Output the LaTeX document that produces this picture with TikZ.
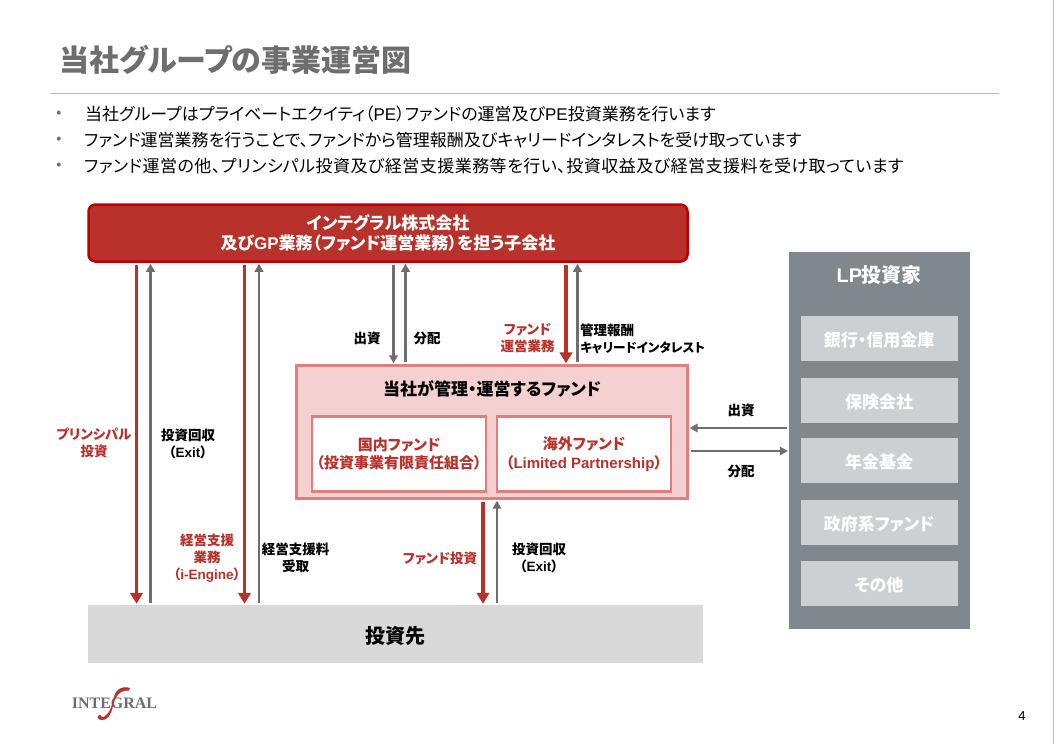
\documentclass[tikz,border=0pt]{standalone}
\usepackage{fontspec}
\setmainfont{Noto Sans CJK JP}[RawFeature=+palt]
\newfontfamily\latinfont{Liberation Sans}
\newfontfamily\logofont{Liberation Serif}
\usetikzlibrary{arrows.meta}
\definecolor{mainred}{HTML}{B9312B}
\definecolor{mainedge}{HTML}{C00000}
\definecolor{fundfill}{HTML}{F4D0D0}
\definecolor{fundedge}{HTML}{E07F7F}
\definecolor{lpgray}{HTML}{81888D}
\definecolor{lpbox}{HTML}{CDD0D3}
\definecolor{linegray}{HTML}{6E6E6E}
\definecolor{rulepink}{HTML}{E8A4A4}
\tikzset{
    box/.style={inner sep=0pt, align=center},
    lpitem/.style={box, fill=lpbox, minimum width=157pt, minimum height=45pt, text height=16pt, text depth=0pt, text=white, font=\fontsize{17}{20}\selectfont\bfseries},
    fundbox/.style={box, fill=white, draw=fundedge, line width=2.4pt, minimum width=174pt, minimum height=75pt, text=mainred, font=\fontsize{15}{18.5}\selectfont\bfseries},
    label/.style={inner sep=0pt, align=center, font=\fontsize{13.5}{17}\selectfont\bfseries},
    redlabel/.style={label, text=mainred},
    redline/.style={draw=mainred, line width=3.2pt, -{Triangle[length=11pt,width=12.5pt]}, shorten >=1pt, shorten <=2pt},
    grayline/.style={draw=linegray, line width=2.4pt, -{Triangle[length=8pt,width=8.5pt]}, shorten >=1pt, shorten <=2pt},
    bullet/.style={inner sep=0pt, anchor=west, font=\fontsize{17}{20}\selectfont},
    dotmark/.style={inner sep=0pt, text=linegray, font=\fontsize{15}{18}\selectfont}
}
\begin{document}
\begin{tikzpicture}[x=1pt, y=-1pt]
\useasboundingbox (0,0) rectangle (1055,744);
\draw[lightgray, line width=1.5pt] (1053.5,0) -- (1053.5,744);

\node[inner sep=0pt, anchor=west, text=linegray, font=\fontsize{30}{34}\selectfont\bfseries] (title) at (59,60) {当社グループの事業運営図};
\draw[rulepink, line width=0.9pt] (50,93.5) -- (999,93.5);

\node[dotmark] (dot1) at (59,114) {•};
\node[dotmark] (dot2) at (59,140) {•};
\node[dotmark] (dot3) at (59,166) {•};
\node[bullet] (line1) at (85,114.5) {当社グループはプライベートエクイティ（{\latinfont PE}）ファンドの運営及び{\latinfont PE}投資業務を行います};
\node[bullet] (line2) at (84,140.5) {ファンド運営業務を行うことで、ファンドから管理報酬及びキャリードインタレストを受け取っています};
\node[bullet] (line3) at (84,166.5) {\addfontfeature{LetterSpace=2.8}ファンド運営の他、プリンシパル投資及び経営支援業務等を行い、投資収益及び経営支援料を受け取っています};

\node[box, fill=mainred, draw=mainedge, line width=2.5pt, rounded corners=7pt, minimum width=599pt, minimum height=57pt, text=white, font=\fontsize{17}{20}\selectfont\bfseries] (main) at (388,233) {インテグラル株式会社\\及び{\latinfont GP}業務（ファンド運営業務）を担う子会社};

\node[box, fill=fundfill, draw=fundedge, line width=2.4pt, minimum width=391pt, minimum height=133pt] (fund) at (492,432) {};
\node[inner sep=0pt, font=\fontsize{17}{20}\selectfont\bfseries] (fundtitle) at (492,389) {当社が管理・運営するファンド};
\node[fundbox] (domestic) at (399,454) {国内ファンド\\（投資事業有限責任組合）};
\node[fundbox] (overseas) at (584,454) {海外ファンド\\（{\latinfont Limited Partnership}）};

\node[box, fill=black!15, minimum width=615pt, minimum height=58pt, text height=19pt, text depth=0pt, font=\fontsize{20}{24}\selectfont\bfseries] (invest) at (395.5,634) {投資先};

\node[box, fill=lpgray, minimum width=181pt, minimum height=377pt] (lp) at (879.5,440.5) {};
\node[inner sep=0pt, text=white, font=\fontsize{19.8}{22}\selectfont\bfseries] (lptitle) at (879,275) {{\latinfont LP}投資家};
\node[lpitem] (bank) at (879,338.5) {銀行・信用金庫};
\node[lpitem] (insurance) at (879,400) {保険会社};
\node[lpitem] (pension) at (879,460.5) {年金基金};
\node[lpitem] (gov) at (879,522) {政府系ファンド};
\node[lpitem] (other) at (879,583.5) {その他};

\coordinate (principal) at (136.5,300);
\coordinate (exit1) at (150.5,300);
\coordinate (support) at (244.5,300);
\coordinate (fee) at (259,300);
\coordinate (capital) at (393.5,300);
\coordinate (dist) at (405.5,300);
\coordinate (manage) at (566,300);
\coordinate (reward) at (577.5,300);
\coordinate (fundinv) at (483,550);
\coordinate (exit2) at (497,550);
\coordinate (lpin) at (740,428);
\coordinate (lpout) at (740,451);

\draw[redline] (main.south -| principal) -- (invest.north -| principal);
\draw[grayline] (invest.north -| exit1) -- (main.south -| exit1);
\draw[redline] (main.south -| support) -- (invest.north -| support);
\draw[grayline] (invest.north -| fee) -- (main.south -| fee);
\draw[grayline] (main.south -| capital) -- (fund.north -| capital);
\draw[grayline] (fund.north -| dist) -- (main.south -| dist);
\draw[redline] (main.south -| manage) -- (fund.north -| manage);
\draw[grayline] (fund.north -| reward) -- (main.south -| reward);
\draw[redline] (fund.south -| fundinv) -- (invest.north -| fundinv);
\draw[grayline] (invest.north -| exit2) -- (fund.south -| exit2);
\draw[grayline] (lp.west |- lpin) -- (fund.east |- lpin);
\draw[grayline] (fund.east |- lpout) -- (lp.west |- lpout);

\node[redlabel] (principallabel) at (94,443) {プリンシパル\\投資};
\node[label] (exit1label) at (188,443.5) {投資回収\\（{\latinfont Exit}）};
\node[redlabel] (supportlabel) at (207,558) {経営支援\\業務\\（{\latinfont i-Engine}）};
\node[label] (feelabel) at (295.5,558) {経営支援料\\受取};
\node[label] (capitallabel) at (367,338.5) {出資};
\node[label] (distlabel) at (427,338.5) {分配};
\node[redlabel] (managelabel) at (527.5,338.5) {ファンド\\運営業務};
\node[label, anchor=west, align=left] (rewardlabel) at (580,338.5) {管理報酬\\{\fontsize{12.6}{17}\selectfont キャリードインタレスト}};
\node[redlabel] (fundinvlabel) at (440,558) {ファンド投資};
\node[label] (exit2label) at (539,558) {投資回収\\（{\latinfont Exit}）};
\node[label] (lpinlabel) at (741,410.5) {出資};
\node[label] (lpoutlabel) at (741,471) {分配};

\node[inner sep=0pt, text=linegray, font=\logofont\fontsize{16}{18}\selectfont\bfseries] (logo) at (114.5,703.5) {INTEGRAL};
\fill[mainred] (130,688) .. controls (122,685.5) and (116,689) .. (114,697) .. controls (112,705) and (110,713) .. (105,716) .. controls (103,718) and (100,717) .. (100,714.5) .. controls (97,716) and (97,719) .. (101,720) .. controls (107,721) and (111,715) .. (113,706) .. controls (115,697) and (119,690) .. (129,690.5) -- cycle;

\node[inner sep=0pt, font=\latinfont\fontsize{13}{15}\selectfont] (pagenum) at (1022,716) {4};
\end{tikzpicture}
\end{document}
